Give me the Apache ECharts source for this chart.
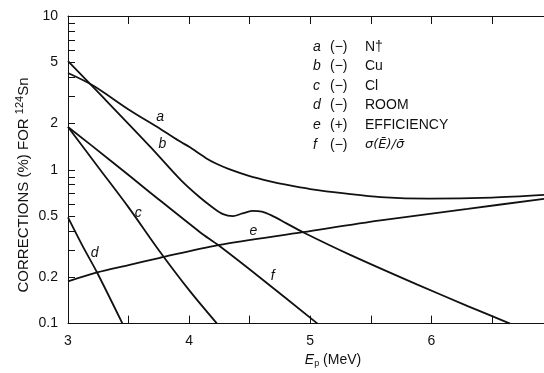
<!DOCTYPE html>
<html>
<head>
<meta charset="utf-8">
<script src="https://cdn.jsdelivr.net/npm/echarts@6/dist/echarts.min.js"></script>
<style>
  html, body { margin: 0; padding: 0; background: #fff; }
  #chart { width: 544px; height: 373px; }
</style>
</head>
<body>
<div id="chart"></div>
<script>
// curves: [Ep (MeV), correction (%)]
const curveA = [[3, 4.26], [3.21, 3.52], [3.5, 2.47], [3.76, 1.85], [3.93, 1.52], [4.0, 1.41], [4.14, 1.19], [4.23, 1.09], [4.33, 1.01], [4.5, 0.91], [4.66, 0.845], [4.8, 0.8], [5.0, 0.75], [5.3, 0.7], [5.58, 0.665], [5.98, 0.65], [6.5, 0.66], [6.93, 0.687]];
const curveB = [[3, 5.08], [3.3, 2.9], [3.68, 1.41], [3.93, 0.86], [4.09, 0.66], [4.2, 0.565], [4.28, 0.515], [4.36, 0.5], [4.44, 0.52], [4.52, 0.54], [4.6, 0.535], [4.68, 0.505], [4.8, 0.45], [4.94, 0.393], [5.33, 0.28], [5.88, 0.18], [6.3, 0.13], [6.65, 0.1]];
const curveC = [[3, 1.9], [3.25, 1.04], [3.5, 0.57], [3.75, 0.3], [4.0, 0.165], [4.23, 0.1]];
const curveD = [[3, 0.49], [3.12, 0.32], [3.24, 0.215], [3.45, 0.1]];
const curveE = [[3, 0.188], [3.24, 0.215], [3.5, 0.24], [3.76, 0.268], [4.24, 0.324], [4.94, 0.393], [5.58, 0.469], [6.3, 0.557], [6.93, 0.648]];
const curveF = [[3, 1.9], [3.35, 1.15], [3.68, 0.71], [4.09, 0.393], [4.24, 0.324], [4.6, 0.195], [5.06, 0.1]];

// curve letters written next to the lines
const tagNames = ['a', 'b', 'c', 'd', 'e', 'f'];
const tagX = [3.76, 3.78, 3.58, 3.22, 4.53, 4.69];
const tagY = [2.2, 1.46, 0.52, 0.288, 0.40, 0.203];

// key in the upper right
const keyLetters = ['a', 'b', 'c', 'd', 'e', 'f'];
const keySigns = ['(\u2212)', '(\u2212)', '(\u2212)', '(\u2212)', '(+)', '(\u2212)'];
const keyNames = ['N\u2020', 'Cu', 'Cl', 'ROOM', 'EFFICIENCY', '\u03c3(\u0112)/\u03c3\u0304'];

const yLabelValues = [0.1, 0.2, 0.5, 1, 2, 5, 10];
const yTickValues = [0.1, 0.2, 0.3, 0.4, 0.5, 0.6, 0.7, 0.8, 0.9, 1, 2, 3, 4, 5, 6, 7, 8, 9, 10];
const xLabelValues = [3, 4, 5, 6];

const ink = '#111';
const font = 'Liberation Sans';

const chart = echarts.init(document.getElementById('chart'));

const curves = [curveA, curveB, curveC, curveD, curveE, curveF];
const lineSeries = curves.map((c, i) => ({
    name: tagNames[i],
    type: 'line',
    data: c,
    symbol: 'none',
    smooth: 0.3,
    lineStyle: { color: ink, width: 1.8 },
    silent: true,
}));

const tagSeries = {
    type: 'scatter',
    symbolSize: 0,
    silent: true,
    itemStyle: { opacity: 1 },
    data: tagNames.map((n, i) => ({ name: n, value: [tagX[i], tagY[i]] })),
    label: {
        show: true,
        position: 'inside',
        formatter: '{b}',
        fontFamily: font,
        fontStyle: 'italic',
        fontSize: 14,
        color: ink,
        opacity: 1,
    },
};

const xCommon = {
    type: 'value',
    min: 3,
    max: 6.93,
    interval: 0.5,
    splitLine: { show: false },
    axisLine: { show: true, lineStyle: { color: ink, width: 1 } },
    axisTick: { inside: true, length: 8, lineStyle: { color: ink } },
};

const keyLines = 19.6;

const option = {
    animation: false,
    backgroundColor: '#fff',
    grid: { left: 68, right: 0, top: 16, bottom: 43 },
    xAxis: [
        Object.assign({}, xCommon, {
            position: 'bottom',
            name: '{it|E}{sub|p} (MeV)',
            nameLocation: 'middle',
            nameGap: 26,
            nameTextStyle: {
                fontFamily: font, fontSize: 14, color: ink, padding: [0, 0, 0, 54],
                rich: {
                    it: { fontFamily: font, fontStyle: 'italic', fontSize: 14, color: ink },
                    sub: { fontFamily: font, fontSize: 9, color: ink, padding: [6, 0, 0, 0] },
                },
            },
            axisLabel: {
                customValues: xLabelValues,
                fontFamily: font, fontSize: 14, color: ink, margin: 11,
            },
        }),
        Object.assign({}, xCommon, {
            position: 'top',
            axisLabel: { show: false },
        }),
    ],
    yAxis: [{
        type: 'log',
        logBase: 10,
        min: 0.1,
        max: 10,
        splitLine: { show: false },
        minorSplitLine: { show: false },
        axisLine: { show: true, lineStyle: { color: ink, width: 1 } },
        axisTick: { inside: true, length: 7, customValues: yTickValues, lineStyle: { color: ink } },
        axisLabel: {
            customValues: yLabelValues,
            formatter: v => String(Number(Number(v).toPrecision(2))),
            fontFamily: font, fontSize: 14, color: ink, margin: 10,
        },
    }],
    graphic: [
        {
            // y axis title, placed a bit below the middle as in the figure
            type: 'text', x: 24, y: 185, rotation: Math.PI / 2, silent: true,
            style: {
                text: 'CORRECTIONS (%) FOR {sup|124}Sn',
                fontFamily: font, fontSize: 15, fill: ink,
                align: 'center', verticalAlign: 'middle',
                rich: { sup: { fontFamily: font, fontSize: 11, fill: ink, padding: [0, 0, 8, 0] } },
            },
        },
        {
            type: 'text', left: 313, top: 37, silent: true,
            style: { text: keyLetters.join('\n'), fontFamily: font, fontStyle: 'italic', fontSize: 14, lineHeight: keyLines, fill: ink },
        },
        {
            type: 'text', left: 330, top: 37, silent: true,
            style: { text: keySigns.join('\n'), fontFamily: font, fontSize: 14, lineHeight: keyLines, fill: ink },
        },
        {
            type: 'text', left: 365, top: 37, silent: true,
            style: { text: keyNames.slice(0, 5).join('\n'), fontFamily: font, fontSize: 14, lineHeight: keyLines, fill: ink },
        },
        {
            type: 'text', left: 365, top: 37 + 5 * keyLines, silent: true,
            style: { text: keyNames[5], fontFamily: 'DejaVu Sans', fontStyle: 'italic', fontSize: 13, lineHeight: keyLines, fill: ink },
        },
    ],
    series: lineSeries.concat([tagSeries]),
};

chart.setOption(option);
</script>
</body>
</html>
